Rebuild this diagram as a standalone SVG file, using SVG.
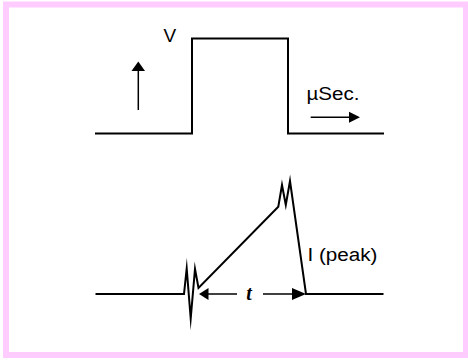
<svg xmlns="http://www.w3.org/2000/svg" width="468" height="360" viewBox="0 0 468 360">
<style>
.wave{fill:none;stroke:#000;stroke-width:2;stroke-linejoin:miter;stroke-miterlimit:20}
.arr{fill:none;stroke:#000;stroke-width:1.5}
.head{fill:#000;stroke:none}
.lbl{font-family:"Liberation Sans",Arial,sans-serif;fill:#000}
</style>
<rect x="0" y="0" width="468" height="360" fill="#fff"/>
<rect x="6" y="4.5" width="460" height="350.5" fill="none" stroke="#ffccff" stroke-width="6"/>
<g id="pulse">
<polyline class="wave" points="95,133.5 192,133.5 192,38.5 288,38.5 288,133.5 384,133.5"/>
</g>
<g id="current">
<polyline class="wave" points="95.5,294 184,294 186.7,268.5 190.7,318.5 195,269 198.5,288 278.3,206.7 282,185 285.8,205 290,181 306,294 383.5,294"/>
</g>
<g id="labels">
<text class="lbl" x="163.5" y="42" font-size="19">V</text>
<text class="lbl" x="306.5" y="100" font-size="18" textLength="53" lengthAdjust="spacingAndGlyphs">µSec.</text>
<text class="lbl" x="307.5" y="260.5" font-size="18" textLength="70" lengthAdjust="spacingAndGlyphs">I (peak)</text>
<text x="249" y="300" font-size="20" font-family="Liberation Serif,serif" font-style="italic" font-weight="bold" text-anchor="middle">t</text>
</g>
<g id="connectors">
<line class="arr" x1="138.3" y1="110" x2="138.3" y2="70"/>
<polygon class="head" points="138.3,61.5 131.5,71 145,71"/>
<line class="arr" x1="310.7" y1="117.3" x2="350" y2="117.3"/>
<polygon class="head" points="360,117.3 349,111.8 349,122.8"/>
<line class="arr" x1="207" y1="294" x2="237" y2="294"/>
<polygon class="head" points="199,294 208.5,288 208.5,300"/>
<line class="arr" x1="263" y1="294" x2="293" y2="294"/>
<polygon class="head" points="306,294 292,288 292,300"/>
</g>
</svg>
